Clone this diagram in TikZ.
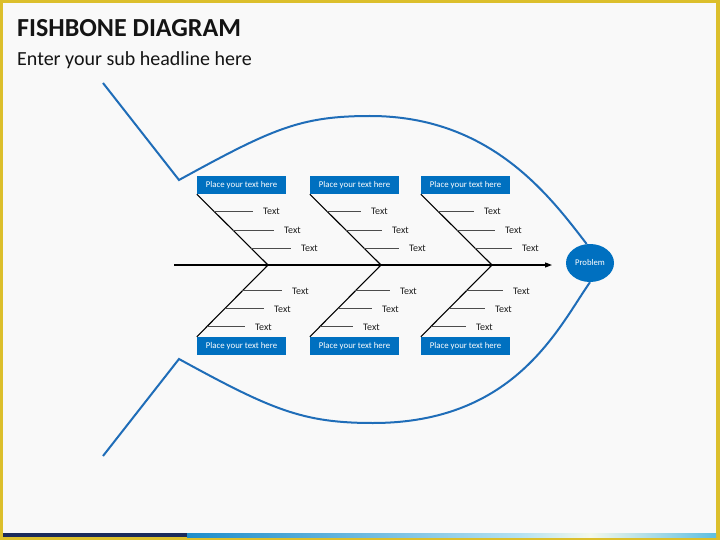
\documentclass[tikz,border=0pt]{standalone}
\usepackage{fontspec}
\setmainfont{Carlito}
\usetikzlibrary{calc,shapes.geometric,arrows.meta}
\definecolor{fishblue}{HTML}{1F6DB8}
\definecolor{boxblue}{HTML}{0070C0}
\definecolor{frameyellow}{HTML}{DCBF2C}
\definecolor{bgcol}{HTML}{F9F9F9}
\definecolor{navybar}{HTML}{1B2B5C}
\definecolor{barblue}{HTML}{1E8DCB}
\definecolor{barlight}{HTML}{B4E2F2}
\definecolor{barwhite}{HTML}{F4F9EC}
\definecolor{barend}{HTML}{5EBFE2}
\tikzset{
 titletext/.style={anchor=base west, inner sep=0, font=\fontsize{26}{30}\selectfont\bfseries, text=black!92},
 subtext/.style={anchor=base west, inner sep=0, font=\fontsize{20}{24}\selectfont, text=black!92},
 labelbox/.style={fill=boxblue, text=white, minimum width=89pt, minimum height=18pt, inner sep=0, font=\fontsize{8.8}{10}\selectfont},
 bonetext/.style={anchor=west, inner xsep=10pt, inner ysep=1pt, font=\fontsize{10}{12}\selectfont, text=black!88},
 bone/.style={line width=1.1pt, black},
 subbone/.style={line width=0.9pt, black!70},
 fishline/.style={line width=2pt, fishblue, line join=miter},
 problem/.style={ellipse, fill=boxblue, text=white, minimum width=48pt, minimum height=38pt, inner sep=0, font=\fontsize{8.7}{10}\selectfont},
}
\begin{document}
\begin{tikzpicture}[x=1pt,y=-1pt]
\useasboundingbox (0,0) rectangle (720,540);
% frame and background
\fill[frameyellow] (0,0) rectangle (720,540);
\fill[bgcol] (3,3) rectangle (716,537);
\fill[navybar] (3,533) rectangle (187,537);
\shade[left color=barblue, right color=barlight] (187,533) rectangle (520,537);
\shade[left color=barlight, right color=barwhite] (520,533) rectangle (590,537);
\shade[left color=barwhite, right color=barend] (590,533) rectangle (716,537);
% titles
\node[titletext] (title) at (17,37) {FISHBONE DIAGRAM};
\node[subtext] (subtitle) at (17,66) {Enter your sub headline here};
% head
\node[problem] (prob) at (590,263) {Problem};
% fish outline
\coordinate (tailtop) at (103,83);
\coordinate (tailtopc) at (179,180);
\coordinate (tailbot) at (103,456);
\coordinate (tailbotc) at (179,359);
\draw[fishline] (tailtop) -- (tailtopc) .. controls (272,129) and (300,116) .. (370,116)
  .. controls (490,116) and (549,195) .. (prob.100);
\draw[fishline] (tailbot) -- (tailbotc) .. controls (272,410) and (303,423) .. (373,423)
  .. controls (515,423) and (558,328) .. (prob.south);
% spine
\coordinate (spstart) at (174,265);
\coordinate (sphead) at (552,265);
\draw[bone,-{Triangle[length=7pt,width=5pt]}] (spstart) -- (sphead);
% bones
\foreach \d/\t in {0/0,113/108,224/221}{
  \node[labelbox] (tb\d) at (241.5+\d,185) {Place your text here};
  \node[labelbox] (bb\d) at (241.5+\d,346) {Place your text here};
  \coordinate (sp\d) at (268+\d,265);
  \draw[bone] (tb\d.south west) -- (sp\d) -- (bb\d.north west);
  \foreach \f/\y/\tx in {0.24/211/263,0.507/230/284,0.76/248/301}{
    \coordinate (ct\d-\y) at ($(tb\d.south west)!\f!(sp\d)$);
    \node[bonetext] (ttop\d-\y) at (\tx+\t-10,\y) {Text};
    \draw[subbone] (ct\d-\y) -- (ct\d-\y -| ttop\d-\y.west);
  }
  \foreach \f/\y/\tx in {0.36/291/292,0.61/309/274,0.86/327/255}{
    \coordinate (cb\d-\y) at ($(sp\d)!\f!(bb\d.north west)$);
    \node[bonetext] (tbot\d-\y) at (\tx+\t-10,\y) {Text};
    \draw[subbone] (cb\d-\y) -- (cb\d-\y -| tbot\d-\y.west);
  }
}
\end{tikzpicture}
\end{document}
